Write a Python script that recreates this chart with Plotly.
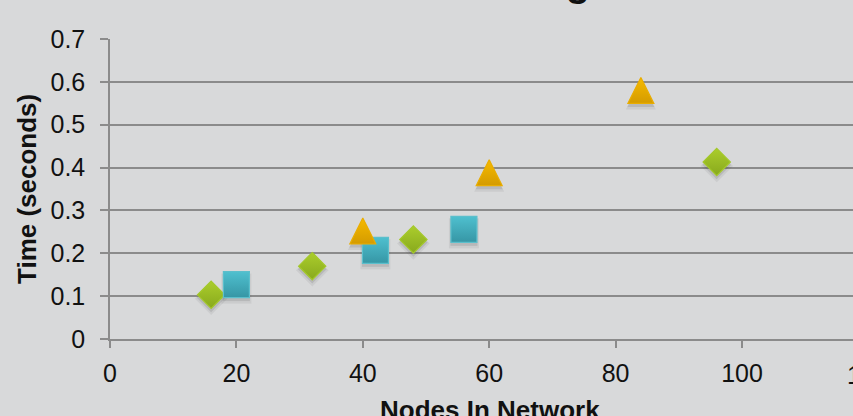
import plotly.graph_objects as go

# Measured run times (seconds) against network size, one list per experiment set
diamond_nodes = [16, 32, 48, 96]
diamond_time = [0.103, 0.170, 0.232, 0.413]

square_nodes = [20, 42, 56]
square_time = [0.127, 0.207, 0.256]

triangle_nodes = [40, 60, 84]
triangle_time = [0.252, 0.388, 0.580]

x_ticks = [0, 20, 40, 60, 80, 100, 120]
y_ticks = [0, 0.1, 0.2, 0.3, 0.4, 0.5, 0.6, 0.7]
y_tick_labels = ["0", "0.1", "0.2", "0.3", "0.4", "0.5", "0.6", "0.7"]

chart_title = "Path Finding"
x_title = "Nodes In Network"
y_title = "Time (seconds)"

W, H = 853, 416
M_L, M_R, M_T, M_B = 110, 0, 39, 77
PX_PER_NODE = 6.32
plot_w = W - M_L - M_R
plot_h = H - M_T - M_B
x_max = plot_w / PX_PER_NODE
y_max = 0.7
px_per_sec = plot_h / y_max

BG = "#d8d9da"
GRID = "#8b8b8b"
FONT = "Liberation Sans, Arial, sans-serif"
TXT = "#111111"

# triangles use the rotated arrow glyph, pushed back by half its height so the
# glyph is centred on the point
series = [
    dict(x=diamond_nodes, y=diamond_time, symbol="diamond", size=21, angle=0,
         top="#abcd2c", bottom="#88a91d", edge="#a3c82a", standoff=0),
    dict(x=square_nodes, y=square_time, symbol="square", size=26, angle=0,
         top="#4fc0cf", bottom="#3696a5", edge="#5bbfcc", standoff=0),
    dict(x=triangle_nodes, y=triangle_time, symbol="arrow-down", size=26, angle=180,
         top="#f6ba00", bottom="#d49b00", edge="#e9ad00", standoff=13),
]

fig = go.Figure()

# soft drop shadows under each marker
for s in series:
    for off, grow, alpha in [(4, 4, 0.07), (3, 1, 0.12)]:
        fig.add_trace(go.Scatter(
            x=s["x"], y=[v - off / px_per_sec for v in s["y"]],
            mode="markers", hoverinfo="skip", showlegend=False,
            marker=dict(symbol=s["symbol"], size=s["size"] + grow, angle=s["angle"],
                        standoff=s["standoff"] + grow / 2 if s["standoff"] else 0,
                        color=f"rgba(40,40,40,{alpha})", line=dict(width=0)),
        ))

for s in series:
    fig.add_trace(go.Scatter(
        x=s["x"], y=s["y"], mode="markers", showlegend=False,
        marker=dict(symbol=s["symbol"], size=s["size"], angle=s["angle"],
                    standoff=s["standoff"], color=s["top"],
                    gradient=dict(type="vertical", color=s["bottom"]),
                    line=dict(color=s["edge"], width=1.2)),
    ))

fig.update_layout(
    width=W, height=H,
    margin=dict(l=M_L, r=M_R, t=M_T, b=M_B),
    paper_bgcolor=BG, plot_bgcolor=BG,
    font=dict(family=FONT, color=TXT),
    showlegend=False,
    xaxis=dict(range=[0, x_max], tickvals=x_ticks, ticks="outside", ticklen=7,
               tickwidth=1.5, tickcolor=GRID, showline=True, linecolor=GRID,
               linewidth=1.5, showgrid=False, zeroline=False,
               ticklabelstandoff=4,
               tickfont=dict(size=25, family=FONT, color=TXT)),
    yaxis=dict(range=[0, y_max], tickvals=y_ticks, ticktext=y_tick_labels,
               ticks="outside", ticklen=8, tickwidth=1.5, tickcolor=GRID,
               showline=True, linecolor=GRID, linewidth=1.5,
               showgrid=True, gridcolor=GRID, gridwidth=1.5, zeroline=False,
               ticklabelstandoff=10,
               tickfont=dict(size=25, family=FONT, color=TXT)),
)

# last x tick label sits past the right edge of the plotting area
fig.add_annotation(text="120", xref="paper", yref="paper",
                   x=120 / x_max, y=0, xanchor="center", yanchor="top",
                   yshift=-20, showarrow=False,
                   font=dict(size=25, family=FONT, color=TXT))

fig.add_annotation(text=x_title, xref="paper", yref="paper",
                   x=(490 - M_L) / plot_w, y=(-(399 - 6 - M_T - plot_h)) / plot_h,
                   xanchor="center", yanchor="top", showarrow=False,
                   font=dict(size=26, family=FONT, weight="bold", color=TXT))

fig.add_annotation(text=y_title, xref="paper", yref="paper",
                   x=(27 - M_L) / plot_w, y=0.5, textangle=-90,
                   xanchor="center", yanchor="middle", showarrow=False,
                   font=dict(size=26, family=FONT, weight="bold", color=TXT))

fig.add_annotation(text=chart_title, xref="paper", yref="paper",
                   x=(592 - M_L) / plot_w, y=(M_T + plot_h - 6) / plot_h,
                   xanchor="right", yanchor="bottom", showarrow=False,
                   font=dict(size=40, family=FONT, weight="bold", color=TXT))

fig.write_html("out.html")
